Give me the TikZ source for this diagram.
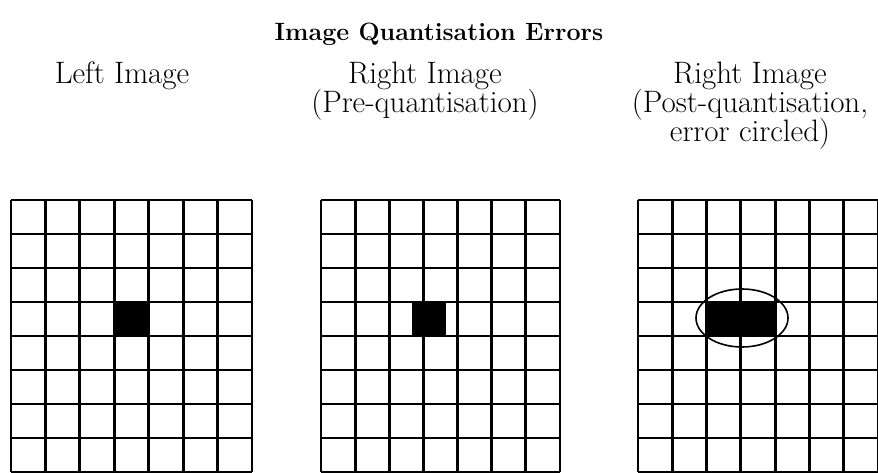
\documentclass[tikz,border=0pt]{standalone}
\lineskiplimit=-60pt
\begin{document}
\begin{tikzpicture}[x=1pt,y=-1pt,
  gridline/.style={line width=2.8pt},
  lbl/.style={anchor=north,inner sep=0pt,align=center,
    font=\fontsize{31}{29}\selectfont},
  ttl/.style={anchor=base,inner sep=0pt,font=\fontsize{25}{30}\selectfont\bfseries},
  pix/.style={fill=black},
  errring/.style={line width=1.6pt}]
\useasboundingbox[fill=white] (0,0) rectangle (878,473);
% black pixels
\fill[pix] (115,302) rectangle (149,336);
\fill[pix] (412,302) rectangle (446,336);
\fill[pix] (707,302) rectangle (777,336);
% grids
\foreach \xa/\xb in {11/252, 321/560, 638/878}{
  \foreach \i in {0,...,7}
    \draw[gridline] ({\xa+(\xb-\xa)*\i/7},200) -- ({\xa+(\xb-\xa)*\i/7},472);
  \foreach \j in {0,...,8}
    \draw[gridline] (\xa,{200+34*\j}) -- (\xb,{200+34*\j});
}
% error ellipse
\draw[errring] (742,318) ellipse [x radius=46, y radius=29];
% texts
\node[ttl] (title) at (439,41) {Image Quantisation Errors};
\node[lbl] (left) at (122,62) {Left Image};
\node[lbl] (mid) at (425,62) {Right Image\\(Pre-quantisation)};
\node[lbl] (rgt) at (750,62) {Right Image\\(Post-quantisation,\\error circled)};
\end{tikzpicture}
\end{document}
